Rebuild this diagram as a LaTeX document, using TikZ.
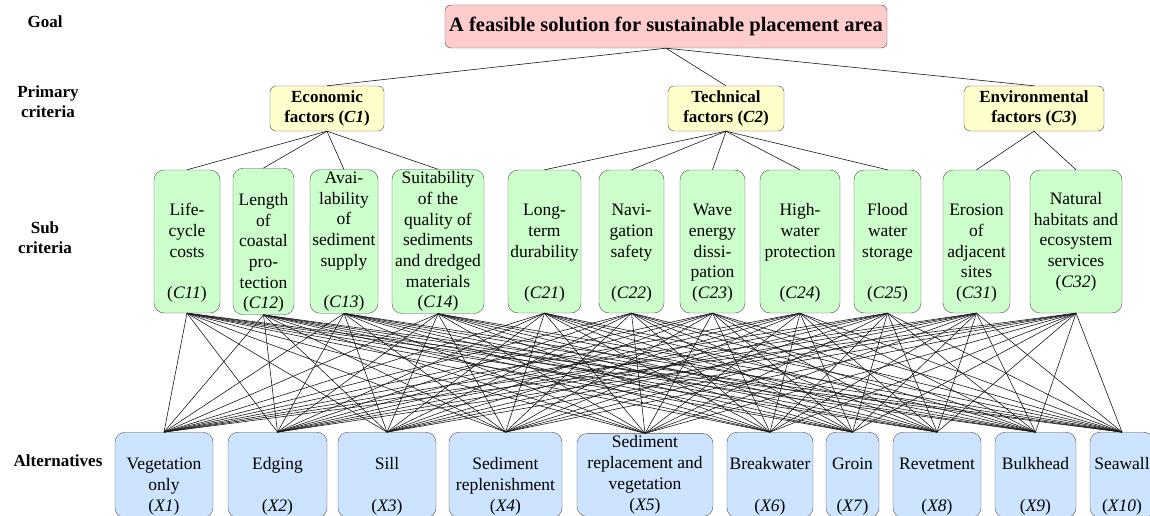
\documentclass[tikz,border=0pt]{standalone}
\usepackage{fontspec}
\IfFontExistsTF{LiberationSerif-Regular.ttf}
  {\setmainfont{LiberationSerif}[Extension=.ttf, UprightFont=*-Regular, BoldFont=*-Bold, ItalicFont=*-Italic, BoldItalicFont=*-BoldItalic]}
  {\setmainfont{Liberation Serif}}
\definecolor{goalpink}{RGB}{255,204,204}
\definecolor{primyellow}{RGB}{255,255,204}
\definecolor{subgreen}{RGB}{204,255,204}
\definecolor{altblue}{RGB}{204,228,255}
\definecolor{boxline}{RGB}{80,80,80}
\tikzset{
  goalbox/.style={draw=boxline, fill=goalpink, rounded corners=6pt, minimum width=442pt, minimum height=43pt, inner sep=2pt, font=\fontsize{20.5}{24}\selectfont\bfseries},
  primbox/.style={draw=boxline, fill=primyellow, rounded corners=6pt, align=center, minimum height=45pt, inner sep=2pt, font=\fontsize{17}{20}\selectfont\bfseries},
  subbox/.style={draw=boxline, fill=subgreen, rounded corners=10pt, align=center, minimum height=143pt, inner sep=2pt, font=\fontsize{17.5}{20.7}\selectfont},
  altbox/.style={draw=boxline, fill=altblue, rounded corners=10pt, align=center, minimum height=80pt, inner sep=2pt, font=\fontsize{17.5}{21}\selectfont},
  levelname/.style={align=center, font=\fontsize{17}{20}\selectfont\bfseries},
  link/.style={black!90, line width=0.6pt}
}
\begin{document}
\begin{tikzpicture}[x=1pt,y=-1pt]
  \useasboundingbox (0,0) rectangle (1150,516);
  % level names
  \node[levelname] (lgoal) at (45,22) {Goal};
  \node[levelname] (lprim) at (48,102) {Primary\\criteria};
  \node[levelname] (lsub) at (45,238) {Sub\\criteria};
  \node[levelname] (lalt) at (58,461) {Alternatives};
  % goal
  \node[goalbox] (goal) at (666,26.5) {A feasible solution for sustainable placement area};
  % primary criteria
  \node[primbox, minimum width=114pt] (c1) at (327,108.5) {Economic\\factors (\textit{C1})};
  \node[primbox, minimum width=116pt] (c2) at (726,108.5) {Technical\\factors (\textit{C2})};
  \node[primbox, minimum width=140pt] (c3) at (1034,108.5) {Environmental\\factors (\textit{C3})};
  % sub criteria
  \node[subbox, minimum width=66pt] (c11) at (187,241.5) {\strut\\Life-\\cycle\\costs\\\strut\\(\textit{C11})};
  \node[subbox, minimum width=61pt] (c12) at (263.5,241.5) {\strut\\Length\\of\\coastal\\pro-\\tection\\(\textit{C12})};
  \node[subbox, minimum width=68pt] (c13) at (344,241.5) {Avai-\\lability\\of\\sediment\\supply\\\strut\\(\textit{C13})};
  \node[subbox, minimum width=92pt] (c14) at (438,241.5) {Suitability\\of the\\quality of\\sediments\\and dredged\\materials\\(\textit{C14})};
  \node[subbox, minimum width=73pt] (c21) at (544.5,241.5) {\strut\\Long-\\term\\durability\\\strut\\(\textit{C21})};
  \node[subbox, minimum width=65pt] (c22) at (631.5,241.5) {\strut\\Navi-\\gation\\safety\\\strut\\(\textit{C22})};
  \node[subbox, minimum width=65pt] (c23) at (712.5,241.5) {\strut\\Wave\\energy\\dissi-\\pation\\(\textit{C23})};
  \node[subbox, minimum width=80pt] (c24) at (800,241.5) {\strut\\High-\\water\\protection\\\strut\\(\textit{C24})};
  \node[subbox, minimum width=67pt] (c25) at (887.5,241.5) {\strut\\Flood\\water\\storage\\\strut\\(\textit{C25})};
  \node[subbox, minimum width=67pt] (c31) at (976.5,241.5) {\strut\\Erosion\\of\\adjacent\\sites\\(\textit{C31})};
  \node[subbox, minimum width=92pt] (c32) at (1076,241.5) {Natural\\habitats and\\ecosystem\\services\\(\textit{C32})};
  % alternatives
  \node[altbox, minimum width=98pt] (x1) at (164,475) {\strut\\Vegetation\\only\\(\textit{X1})};
  \node[altbox, minimum width=99pt] (x2) at (277.5,475) {\strut\\Edging\\\strut\\(\textit{X2})};
  \node[altbox, minimum width=98pt] (x3) at (387,475) {\strut\\Sill\\\strut\\(\textit{X3})};
  \node[altbox, minimum width=113pt] (x4) at (505.5,475) {\strut\\Sediment\\replenishment\\(\textit{X4})};
  \node[altbox, minimum width=136pt] (x5) at (645,475) {Sediment\\replacement and\\vegetation\\(\textit{X5})};
  \node[altbox, minimum width=86pt] (x6) at (770,475) {\strut\\Breakwater\\\strut\\(\textit{X6})};
  \node[altbox, minimum width=53pt] (x7) at (852.5,475) {\strut\\Groin\\\strut\\(\textit{X7})};
  \node[altbox, minimum width=88pt] (x8) at (937,475) {\strut\\Revetment\\\strut\\(\textit{X8})};
  \node[altbox, minimum width=81pt] (x9) at (1035.5,475) {\strut\\Bulkhead\\\strut\\(\textit{X9})};
  \node[altbox, minimum width=64pt] (x10) at (1122,475) {\strut\\Seawall\\\strut\\(\textit{X10})};
  % links
  \foreach \p in {c1,c2,c3}
    \draw[link] (goal.south) -- (\p.north);
  \foreach \s in {c11,c12,c13,c14}
    \draw[link] (c1.south) -- (\s.north);
  \foreach \s in {c21,c22,c23,c24,c25}
    \draw[link] (c2.south) -- (\s.north);
  \foreach \s in {c31,c32}
    \draw[link] (c3.south) -- (\s.north);
  \foreach \s in {c11,c12,c13,c14,c21,c22,c23,c24,c25,c31,c32}
    \foreach \a in {x1,x2,x3,x4,x5,x6,x7,x8,x9,x10}
      \draw[link] (\s.south) -- (\a.north);
\end{tikzpicture}
\end{document}
